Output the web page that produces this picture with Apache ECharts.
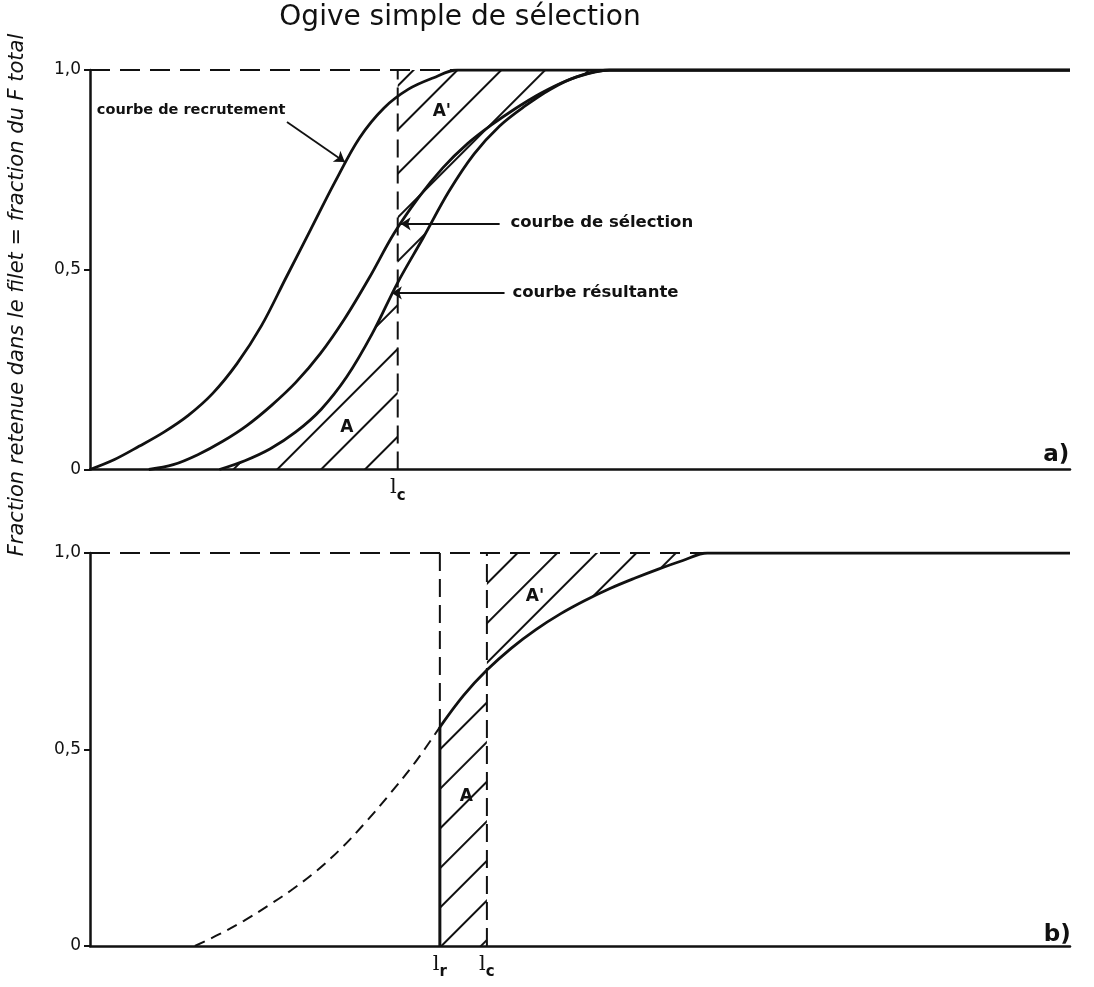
<!DOCTYPE html>
<html><head><meta charset="utf-8">
<script src="https://cdn.jsdelivr.net/npm/echarts@6/dist/echarts.min.js"></script>
<style>html,body{margin:0;padding:0;background:#fff}#c{width:1094px;height:987px}</style>
</head><body><div id="c"></div>
<script>
// ---------- texts ----------
const chartTitle = 'Ogive simple de sélection';
const yAxisTitle = 'Fraction retenue dans le filet = fraction du F total';
const yTickLabels = ['0', '0,5', '1,0'];

// ---------- panel a) ----------
const recX = [0, 2.5, 5, 7.5, 10, 12.5, 15, 17.5, 20, 22.5, 25, 27.5, 30, 32.5, 35, 37.5, 100];
const recY = [0, 0.025, 0.058, 0.093, 0.135, 0.19, 0.265, 0.36, 0.48, 0.60, 0.72, 0.83, 0.905, 0.952, 0.98, 1.0, 1.0];
const selX = [6, 8.5, 11, 13.5, 16, 18.5, 21, 23.5, 26, 28.5, 31, 33.5, 36, 38.5, 41, 43.5, 46, 48.5, 51, 53, 100];
const selY = [0, 0.012, 0.037, 0.07, 0.11, 0.16, 0.218, 0.29, 0.378, 0.48, 0.59, 0.68, 0.755, 0.815, 0.863, 0.905, 0.942, 0.972, 0.993, 1.0, 1.0];
const resX = [13.2, 15.8, 18.4, 21.0, 23.6, 26.2, 28.8, 31.4, 34.0, 36.6, 39.2, 41.8, 44.4, 47.0, 49.6, 53, 100];
const resY = [0, 0.022, 0.052, 0.094, 0.151, 0.232, 0.34, 0.468, 0.58, 0.695, 0.79, 0.86, 0.91, 0.952, 0.982, 1.0, 1.0];
const lcA = 31.4;

// ---------- panel b) ----------
const bDashX = [10.7, 13.2, 15.7, 18.2, 20.7, 23.2, 25.7, 28.2, 30.7, 33.2, 35.7];
const bDashY = [0, 0.03, 0.064, 0.103, 0.145, 0.193, 0.25, 0.317, 0.39, 0.468, 0.557];
const bX = [35.7, 38.1, 40.5, 43.0, 45.5, 48.0, 50.5, 53.0, 55.5, 58.0, 60.5, 63.0, 100];
const bY = [0.557, 0.637, 0.702, 0.758, 0.805, 0.845, 0.879, 0.909, 0.935, 0.959, 0.981, 1.0, 1.0];
const lrB = 35.7;
const lcB = 40.5;

// ---------- helpers ----------
const zip = (xs, ys) => xs.map((x, i) => [x, ys[i]]);
const between = (xs, ys, a, b) => zip(xs, ys).filter(p => p[0] >= a - 1e-9 && p[0] <= b + 1e-9);
const firstOne = (xs, ys) => xs[ys.indexOf(1.0)];

const FONT = 'DejaVu Sans';
const INK = '#111';
const hatch = (gap) => ({ symbol: 'rect', symbolSize: 1, dashArrayX: [1, 0], dashArrayY: [2, gap], rotation: -Math.PI / 4, color: '#111' });

function curve(data, gi, opts) {
  return Object.assign({ type: 'line', xAxisIndex: gi, yAxisIndex: gi, data: data, smooth: 0.35, symbol: 'none',
    lineStyle: { color: INK, width: 2.8 }, silent: true, z: 5 }, opts || {});
}
function area(data, gi, origin, gap) {
  const h = hatch(gap);
  return { type: 'line', xAxisIndex: gi, yAxisIndex: gi, data: data, smooth: 0.35, symbol: 'none', silent: true,
    lineStyle: { width: 0, color: 'rgba(0,0,0,0)', decal: h }, itemStyle: { color: 'rgba(0,0,0,0)', decal: h },
    areaStyle: { color: 'rgba(0,0,0,0)', opacity: 1, origin: origin }, z: 2 };
}
function note(gi, x, y, text, pos, size, bold) {
  return { type: 'scatter', xAxisIndex: gi, yAxisIndex: gi, symbolSize: 0, silent: true, z: 10,
    itemStyle: { color: 'rgba(0,0,0,0)', opacity: 1 },
    data: [[x, y]],
    label: { show: true, position: pos, distance: 0, formatter: text, color: INK, opacity: 1,
      fontFamily: FONT, fontSize: size, fontWeight: bold ? 'bold' : 'normal' } };
}
function subLabel(gi, x, main, sub) {
  return { type: 'scatter', xAxisIndex: gi, yAxisIndex: gi, symbolSize: 0, silent: true, z: 10,
    itemStyle: { color: 'rgba(0,0,0,0)', opacity: 1 }, data: [[x, 0]],
    label: { show: true, position: 'bottom', distance: 8, opacity: 1, formatter: '{l|' + main + '}{s|' + sub + '}',
      rich: { l: { fontFamily: 'DejaVu Serif', fontSize: 21, color: INK, verticalAlign: 'top', lineHeight: 26 },
              s: { fontFamily: FONT, fontSize: 15, fontWeight: 'bold', color: INK, verticalAlign: 'bottom', lineHeight: 26 } } } };
}
const dashed = (data, gi, dash, w) => curve(data, gi, { smooth: false, lineStyle: { color: INK, width: w || 2, type: dash } });

const series = [
  // ---- panel a ----
  area(between(resX, resY, resX[0], lcA), 0, 'start', 29),
  area(between(resX, resY, lcA, firstOne(resX, resY)), 0, 'end', 29),
  dashed([[0, 1], [100, 1]], 0, [20, 10], 2),
  dashed([[lcA, 0], [lcA, 1]], 0, [18, 8], 2),
  curve(zip(recX, recY), 0),
  curve(zip(selX, selY), 0),
  curve(zip(resX, resY), 0),
  { type: 'line', xAxisIndex: 0, yAxisIndex: 0, data: [], silent: true,
    markLine: { silent: true, symbol: ['none', 'arrow'], symbolSize: 10, animation: false,
      label: { show: false }, lineStyle: { type: 'solid', color: INK, width: 1.8 },
      data: [
        [{ coord: [20.1, 0.87] }, { coord: [26.0, 0.77] }],
        [{ coord: [41.8, 0.615] }, { coord: [31.7, 0.615] }],
        [{ coord: [42.3, 0.442] }, { coord: [30.8, 0.442] }]
      ] } },
  note(0, 0.7, 0.90, 'courbe de recrutement', 'right', 14.5, true),
  note(0, 42.9, 0.618, 'courbe de sélection', 'right', 16.5, true),
  note(0, 43.1, 0.442, 'courbe résultante', 'right', 16.5, true),
  note(0, 35.9, 0.895, "A'", 'inside', 17, true),
  note(0, 26.2, 0.105, 'A', 'inside', 17, true),
  note(0, 98.6, 0.035, 'a)', 'inside', 23, true),
  subLabel(0, lcA, 'l', 'c'),
  // ---- panel b ----
  area(between(bX, bY, lrB, lcB), 1, 'start', 26),
  area(between(bX, bY, lcB, firstOne(bX, bY)), 1, 'end', 26),
  dashed([[0, 1], [100, 1]], 1, [20, 10], 2),
  dashed([[lcB, 0], [lcB, 1]], 1, [18, 8], 2),
  dashed([[lrB, bY[0]], [lrB, 1]], 1, [18, 8], 2),
  curve([[lrB, 0], [lrB, bY[0]]], 1, { smooth: false, lineStyle: { color: INK, width: 3 } }),
  curve(zip(bDashX, bDashY), 1, { lineStyle: { color: INK, width: 2, type: [11, 7] } }),
  curve(zip(bX, bY), 1),
  note(1, 45.4, 0.888, "A'", 'inside', 17, true),
  note(1, 38.4, 0.379, 'A', 'inside', 17, true),
  note(1, 98.7, 0.028, 'b)', 'inside', 23, true),
  subLabel(1, lrB, 'l', 'r'),
  subLabel(1, lcB, 'l', 'c')
];

const xAxisBase = (gi) => ({ type: 'value', gridIndex: gi, min: 0, max: 100,
  axisLine: { show: true, onZero: false, lineStyle: { color: INK, width: 2.5 } },
  axisTick: { show: false }, axisLabel: { show: false }, splitLine: { show: false } });
const yAxisBase = (gi) => ({ type: 'value', gridIndex: gi, min: 0, max: 1, interval: 0.5,
  axisLine: { show: true, lineStyle: { color: INK, width: 2.5 } },
  axisTick: { show: true, inside: false, length: 6, lineStyle: { color: INK, width: 2 } },
  axisLabel: { show: true, margin: 9, color: INK, fontFamily: FONT, fontSize: 17,
    formatter: v => yTickLabels[Math.round(v / 0.5)] },
  splitLine: { show: false } });

const chart = echarts.init(document.getElementById('c'), null, { renderer: 'canvas' });
chart.setOption({
  animation: false,
  backgroundColor: '#fff',
  grid: [
    { left: 90, right: 24, top: 70, height: 399.5 },
    { left: 90, right: 24, top: 553, height: 393 }
  ],
  xAxis: [xAxisBase(0), xAxisBase(1)],
  yAxis: [yAxisBase(0), yAxisBase(1)],
  graphic: [
    { type: 'text', x: 460, y: 18, silent: true,
      style: { text: chartTitle, font: '28px "DejaVu Sans"', fill: INK, align: 'center', verticalAlign: 'middle' } },
    { type: 'text', x: 18, y: 295, rotation: Math.PI / 2, silent: true,
      style: { text: yAxisTitle, font: 'italic 21px "DejaVu Sans"', fill: INK, align: 'center', verticalAlign: 'middle' } }
  ],
  series: series
});
</script></body></html>
